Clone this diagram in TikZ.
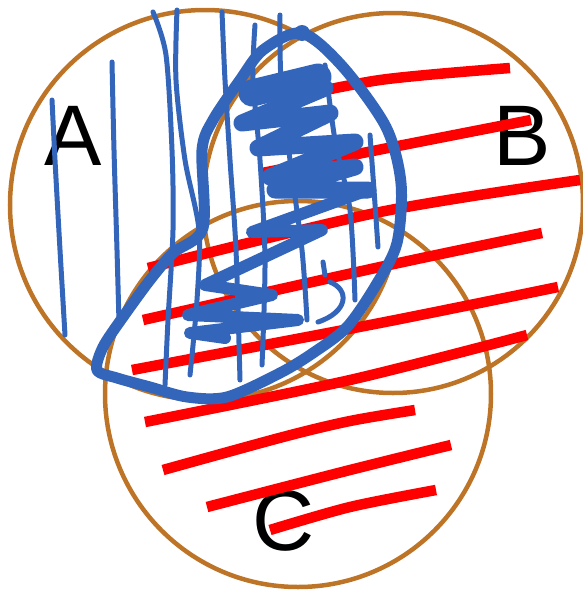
\documentclass[tikz,border=0pt]{standalone}
\usepackage{fontspec}
\setmainfont{Liberation Sans}
\definecolor{ringbrown}{RGB}{189,116,39}
\definecolor{penblue}{RGB}{51,102,187}

\begin{document}
\begin{tikzpicture}[x=1pt,y=-1pt,
    ring/.style={draw=ringbrown,line width=4.5pt},
    hatch/.style={draw=red,line width=10.5pt},
    thinpen/.style={draw=penblue,line width=5pt,line cap=round,line join=round},
    fatpen/.style={draw=penblue,line width=11pt,line cap=round,line join=round},
    setname/.style={font=\fontsize{86}{86}\selectfont,inner sep=0pt}]
                \useasboundingbox (0,0) rectangle (583,590);
                % the three sets
                \draw[ring] (205,205) circle[radius=195];
                \draw[ring] (393,203) circle[radius=190];
                \draw[ring] (298,394) circle[radius=193];
                \node[setname] (setA) at (73,136) {A};
                \node[setname] (setB) at (522,136) {B};
                \node[setname] (setC) at (284,521) {C};
                % red hatching
                \draw[hatch] plot[smooth] coordinates {(270,102) (380,80) (510,68)};
                \draw[hatch] plot[smooth] coordinates {(262,173) (393,147) (531,120)};
                \draw[hatch] plot[smooth] coordinates {(148,268) (380,212) (580,180)};
                \draw[hatch] plot[smooth] coordinates {(143,320) (380,267) (542,233)};
                \draw[hatch] plot[smooth] coordinates {(132,370) (380,323) (558,287)};
                \draw[hatch] plot[smooth] coordinates {(145,422) (350,380) (527,335)};
                \draw[hatch] plot[smooth] coordinates {(163,470) (283,437) (350,421) (415,410)};
                \draw[hatch] plot[smooth] coordinates {(207,507) (350,470) (451,445)};
                \draw[hatch] plot[smooth] coordinates {(270,530) (350,507) (436,490)};
                % thin blue strokes
                \draw[thinpen] plot[smooth] coordinates {(52,100) (55,160) (60,250) (65,335)};
                \draw[thinpen] plot[smooth] coordinates {(112,62) (114,150) (117,250) (119,322)};
                \draw[thinpen] plot[smooth] coordinates {(153,12) (166,55) (172,150) (173,230) (168,320) (165,385)};
                \draw[thinpen] plot[smooth] coordinates {(177,10) (176,80) (185,160) (199,230) (197,300) (190,375)};
                \draw[thinpen] plot[smooth] coordinates {(222,12) (225,80) (230,160) (236,250) (240,380)};
                \draw[thinpen] plot[smooth] coordinates {(255,25) (253,80) (260,160) (265,260) (262,365)};
                \draw[thinpen] plot[smooth] coordinates {(280,15) (281,80) (290,160) (302,250) (307,320)};
                \draw[thinpen] plot[smooth] coordinates {(325,65) (335,140) (350,210) (355,300)};
                \draw[thinpen] plot[smooth] coordinates {(370,135) (374,190) (378,247)};
                \draw[thinpen] (323,262) -- (325,275);
                \draw[thinpen] (330,282) .. controls (350,290) and (348,312) .. (318,322);
                % thick blue loop
                \draw[fatpen] plot[smooth cycle] coordinates {(302,33) (343,67) (386,127) (401,183)
                    (397,243) (376,285) (347,327) (313,353) (280,373) (227,397) (187,397)
                    (150,387) (117,378) (97,370) (103,347) (123,317) (150,280) (173,253)
                    (203,228) (202,150) (213,120) (240,80) (263,50)};
                \fill[penblue] (302,33) circle[radius=8];
                % scribble
                \draw[fatpen,line width=27pt] (252,93) -- (318,77);
                \draw[fatpen,line width=17pt] (325,88) -- (242,123) -- (330,113) -- (258,148)
                    -- (355,142) -- (270,177) -- (355,167) -- (275,190) -- (368,190);
                \draw[fatpen,line width=12pt] (368,190) -- (252,232) -- (322,230) -- (205,285)
                    -- (272,295) -- (188,315) -- (298,320) -- (190,333) -- (225,338);
\end{tikzpicture}
\end{document}
